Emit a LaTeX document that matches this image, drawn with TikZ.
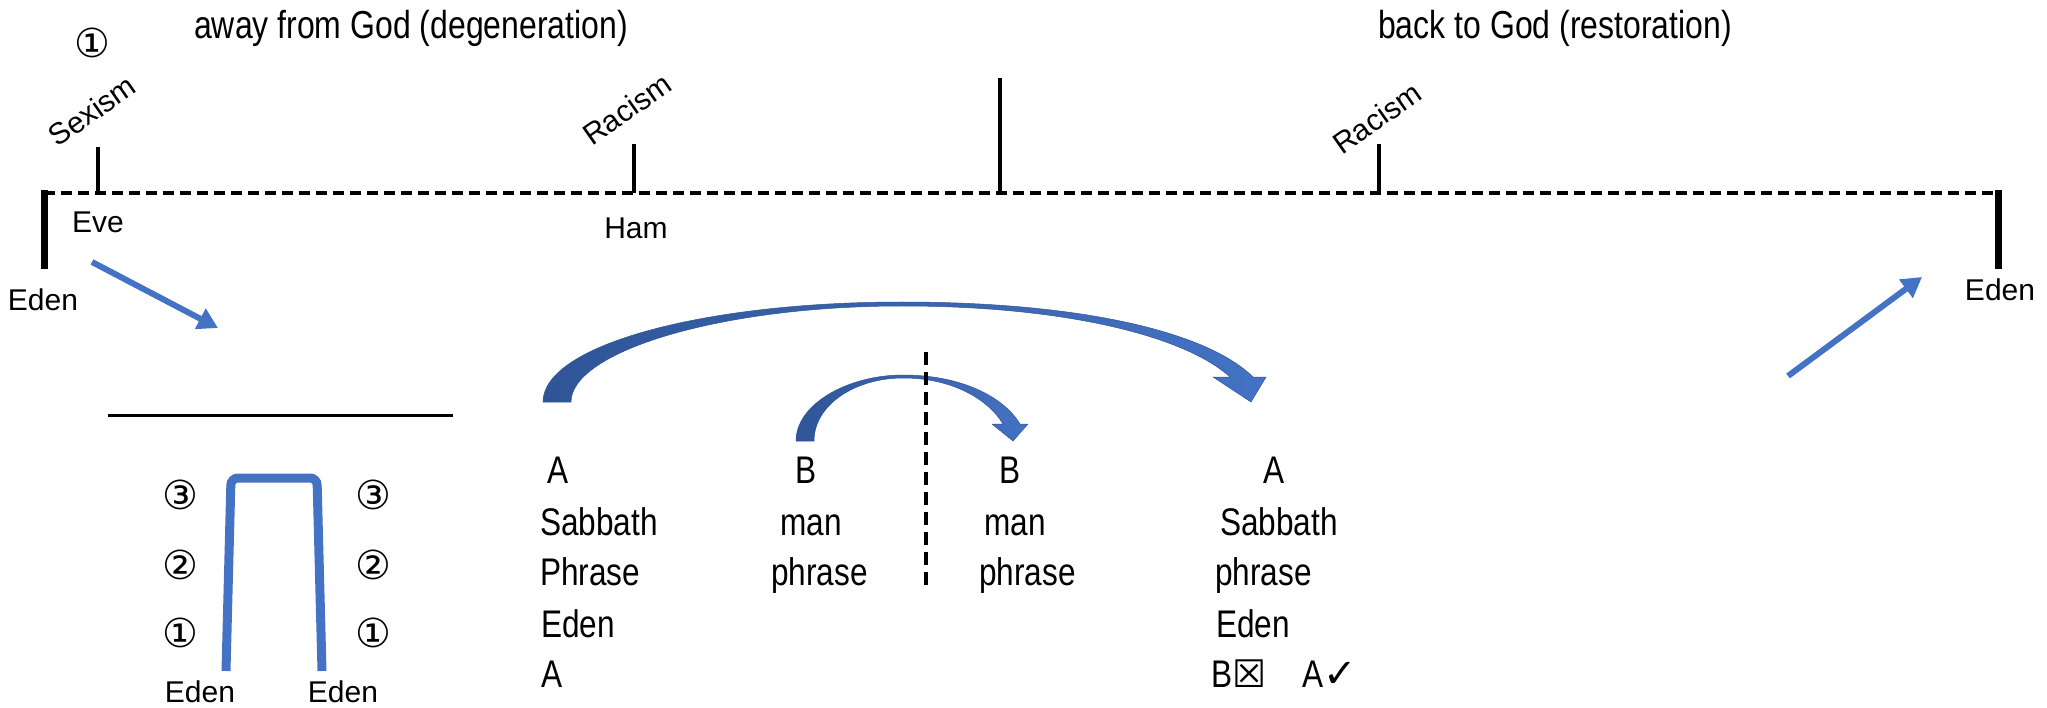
\documentclass[tikz,border=0pt]{standalone}
\usepackage{fontspec}
\setmainfont{Liberation Sans}
\newfontfamily\narrowfont[FakeStretch=0.82]{Liberation Sans}
\newfontfamily\symfont{DejaVu Sans}
\usetikzlibrary{arrows.meta,positioning}
\definecolor{arcdark}{RGB}{47,85,151}
\definecolor{arclight}{RGB}{68,114,196}

\begin{document}
\begin{tikzpicture}[x=1pt,y=-1pt,
    lbl/.style={font=\fontsize{30}{31}\selectfont,inner sep=0pt},
    colw/.style={font=\narrowfont\fontsize{38.5}{40}\selectfont,anchor=base west,inner sep=0pt},
    ttl/.style={font=\narrowfont\fontsize{39}{40}\selectfont,anchor=base,inner sep=0pt},
    circ/.style={font=\symfont\fontsize{40}{40}\selectfont,inner sep=0pt},
    tick/.style={line width=4pt},
    bar/.style={line width=7pt},
    slope/.style={draw=arclight,line width=6pt,-{Triangle[length=20pt,width=22pt]}},
    curved/.style={left color=arcdark,right color=arclight,draw=arcdark,line width=0.5pt}]
    \useasboundingbox (0,0) rectangle (2047,708);
    % time line
    \coordinate (tl) at (44,193);
    \coordinate (tr) at (1998,193);
    \draw[line width=3.5pt,dash pattern=on 11pt off 6pt] (tl) -- (tr);
    \draw[bar] (44,190) -- (44,269);
    \draw[bar] (1998,190) -- (1998,269);
    \draw[tick] (98,147) -- (98,193);
    \draw[tick] (634,144) -- (634,193);
    \draw[line width=4.5pt] (1000,78) -- (1000,193);
    \draw[tick] (1379,144) -- (1379,193);
    \node[ttl] (away) at (411,39) {away from God (degeneration)};
    \node[ttl] (back) at (1555,39) {back to God (restoration)};
    \node[circ] (n0) at (92,43) {①};
    \node[lbl,rotate=35] (sex) at (92,111) {Sexism};
    \node[lbl,rotate=35] (racl) at (627,109) {Racism};
    \node[lbl,rotate=35] (racr) at (1377,118) {Racism};
    \node[lbl] (eve) at (98,222) {Eve};
    \node[lbl] (ham) at (636,228) {Ham};
    \node[lbl] (edenl) at (43,300) {Eden};
    \node[lbl] (edenr) at (2000,290) {Eden};
    \coordinate (d0) at (92,262);
    \coordinate (d1) at (218,328);
    \coordinate (u0) at (1788,376);
    \coordinate (u1) at (1922,277);
    \draw[slope] (d0) -- (d1);
    \draw[slope] (u0) -- (u1);
    % left panel
    \coordinate (h0) at (108,415);
    \coordinate (h1) at (453,415);
    \draw[line width=3pt] (h0) -- (h1);
    \draw[draw=arclight,line width=9pt,rounded corners=7pt]
      (226,671) -- (231,478) -- (317,478) -- (322,671);
    \foreach \n/\y in {①/633,②/565,③/495} {
      \node[circ] (l\y) at (180,\y) {\n};
      \node[circ] (r\y) at (373,\y) {\n};
    }
    \node[lbl] (e1) at (200,692) {Eden};
    \node[lbl] (e2) at (343,692) {Eden};
    % chiasm
    \shadedraw[curved] (543,402) .. controls (543,345) and (704,302) .. (902,302)
      .. controls (1075,302) and (1205,330) .. (1253,377) -- (1266,377) -- (1251,402)
      -- (1213,377) -- (1230,377) .. controls (1185,336) and (1065,306) .. (902,306)
      .. controls (719,306) and (571,352) .. (571,402) -- cycle;
    \shadedraw[curved] (796,441) .. controls (796,404) and (848,375) .. (903,375)
      .. controls (960,375) and (1003,396) .. (1020,424) -- (1028,424) -- (1013,441)
      -- (992,424) -- (1003,424) .. controls (988,399) and (952,378) .. (903,378)
      .. controls (855,378) and (814,405) .. (814,441) -- cycle;
    \coordinate (v0) at (926,352);
    \coordinate (v1) at (926,588);
    \draw[line width=3.5pt,dash pattern=on 13pt off 7pt] (v0) -- (v1);
    \node[colw] (a1) at (547,483) {A};
    \node[colw] (a2) at (540,535) {Sabbath};
    \node[colw] (a3) at (540,585) {Phrase};
    \node[colw] (a4) at (541,637) {Eden};
    \node[colw] (a5) at (541,687) {A};
    \node[colw] (b1) at (795,483) {B};
    \node[colw] (b2) at (780,535) {man};
    \node[colw] (b3) at (771,585) {phrase};
    \node[colw] (c1) at (999,483) {B};
    \node[colw] (c2) at (984,535) {man};
    \node[colw] (c3) at (979,585) {phrase};
    \node[colw] (d1) at (1263,483) {A};
    \node[colw] (d2) at (1220,535) {Sabbath};
    \node[colw] (d3) at (1215,585) {phrase};
    \node[colw] (d4) at (1216,637) {Eden};
    \node[colw] (d5) at (1211,687) {B{\symfont\bfseries\fontsize{38}{38}\selectfont ☒}};
    \node[colw] (d6) at (1302,687) {A{\symfont\bfseries\fontsize{40}{40}\selectfont ✓}};
  \end{tikzpicture}
\end{document}
